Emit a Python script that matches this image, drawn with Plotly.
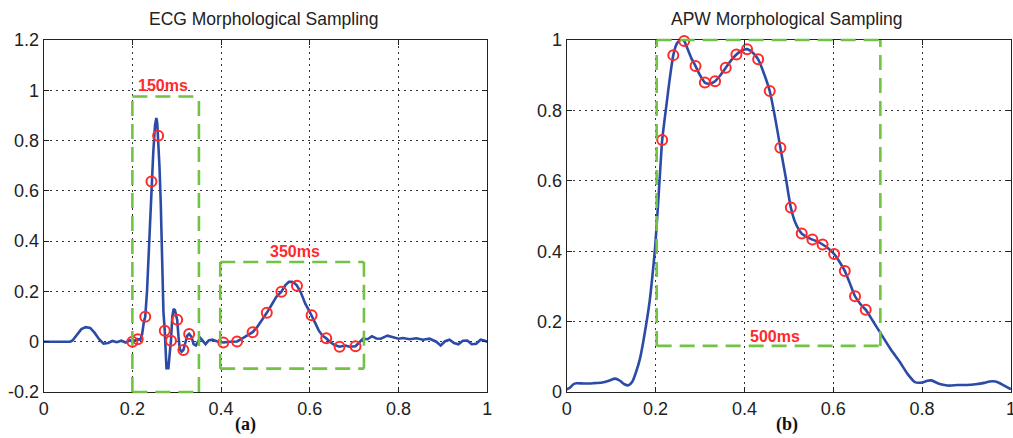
import plotly.graph_objects as go

# ---------------- ECG data ----------------
ecg_x = [0.0, 0.06, 0.065, 0.075, 0.085, 0.095, 0.105, 0.115, 0.125, 0.135, 0.145, 0.155, 0.165, 0.175,
         0.185, 0.195, 0.2, 0.206, 0.212, 0.218, 0.222, 0.226, 0.229, 0.233, 0.237, 0.240, 0.243, 0.247,
         0.251, 0.254, 0.256, 0.258, 0.261, 0.264, 0.266, 0.268, 0.270, 0.273, 0.275, 0.277, 0.279, 0.281,
         0.284, 0.287, 0.290, 0.293, 0.296, 0.299, 0.301, 0.304, 0.307, 0.311, 0.315, 0.320, 0.324, 0.328,
         0.333, 0.338, 0.343, 0.348, 0.353, 0.358, 0.365, 0.372, 0.38, 0.39, 0.405, 0.42, 0.436, 0.45,
         0.46, 0.471, 0.48, 0.49, 0.503, 0.515, 0.525, 0.536, 0.545, 0.553, 0.56, 0.566, 0.571, 0.58,
         0.59, 0.598, 0.604, 0.612, 0.62, 0.628, 0.637, 0.645, 0.655, 0.667, 0.68, 0.69, 0.703, 0.712,
         0.72, 0.73, 0.74, 0.75, 0.76, 0.775, 0.79, 0.8, 0.81, 0.825, 0.84, 0.855, 0.87, 0.885, 0.895,
         0.905, 0.915, 0.925, 0.935, 0.945, 0.955, 0.965, 0.975, 0.985, 0.993, 1.0]
ecg_y = [0.0, 0.0, 0.005, 0.03, 0.05, 0.058, 0.055, 0.035, 0.01, -0.008, -0.005, 0.003, -0.002, 0.004,
         -0.003, 0.006, 0.0, 0.005, 0.01, 0.008, 0.03, 0.08, 0.099, 0.2, 0.35, 0.5, 0.637, 0.75,
         0.86, 0.89, 0.87, 0.819, 0.70, 0.55, 0.40, 0.25, 0.12, 0.044, -0.05, -0.11, -0.08, -0.11,
         -0.05, 0.004, 0.10, 0.13, 0.125, 0.10, 0.087, 0.02, -0.03, -0.04, -0.033, 0.0, 0.025, 0.031,
         0.02, -0.01, -0.015, 0.0, 0.015, 0.005, -0.01, 0.005, 0.008, 0.002, -0.003, 0.0, 0.001, 0.015,
         0.025, 0.038, 0.055, 0.08, 0.115, 0.15, 0.18, 0.199, 0.225, 0.238, 0.238, 0.232, 0.223, 0.195,
         0.15, 0.125, 0.105, 0.075, 0.045, 0.025, 0.0135, 0.0, -0.012, -0.02, -0.015, -0.02, -0.018, 0.0,
         0.012, 0.01, 0.022, 0.013, 0.012, 0.024, 0.018, 0.012, 0.015, 0.01, 0.014, 0.008, 0.012, 0.0, -0.015,
         0.002, 0.008, -0.005, -0.01, 0.004, 0.005, -0.01, -0.008, 0.008, 0.005, 0.0]

ecg_sample_x = [0.200, 0.212, 0.229, 0.243, 0.258, 0.273, 0.287, 0.301, 0.315, 0.328,
                0.405, 0.436, 0.471, 0.503, 0.536, 0.571, 0.604, 0.637, 0.667, 0.703]
ecg_sample_y = [0.0, 0.01, 0.099, 0.637, 0.819, 0.044, 0.004, 0.087, -0.033, 0.031,
                -0.003, 0.001, 0.038, 0.115, 0.199, 0.223, 0.105, 0.0135, -0.02, -0.018]

# boxes: (x0, x1, y0, y1)
ecg_qrs_box = (0.2, 0.35, -0.2, 0.975)
ecg_t_box = (0.398, 0.722, -0.107, 0.317)
ecg_labels = ["150ms", "350ms"]
ecg_label_x = [0.268, 0.566]
ecg_label_y = [1.02, 0.357]

# ---------------- APW data ----------------
apw_x = [0.0, 0.007, 0.015, 0.022, 0.04, 0.06, 0.08, 0.095, 0.109, 0.12, 0.13, 0.139, 0.148, 0.157,
         0.165, 0.172, 0.18, 0.187, 0.193, 0.199, 0.205, 0.210, 0.215, 0.22, 0.225, 0.232, 0.240, 0.248,
         0.2587, 0.2645, 0.272, 0.280, 0.290, 0.300, 0.311, 0.322, 0.334, 0.346, 0.358, 0.370, 0.382,
         0.394, 0.406, 0.418, 0.431, 0.444, 0.457, 0.469, 0.481, 0.493, 0.5045, 0.515, 0.529, 0.541,
         0.553, 0.565, 0.576, 0.589, 0.602, 0.614, 0.626, 0.637, 0.649, 0.661, 0.673, 0.69, 0.712, 0.73,
         0.75, 0.768, 0.784, 0.8, 0.812, 0.821, 0.835, 0.85, 0.862, 0.88, 0.9, 0.92, 0.94, 0.952, 0.965,
         0.975, 0.985, 0.997, 1.0]
apw_y = [0.008, 0.012, 0.022, 0.025, 0.024, 0.025, 0.027, 0.032, 0.038, 0.032, 0.022, 0.019, 0.03, 0.06,
         0.095, 0.14, 0.2, 0.26, 0.33, 0.41, 0.52, 0.62, 0.716, 0.77, 0.82, 0.89, 0.957, 0.99,
         1.003, 0.997, 0.975, 0.95, 0.926, 0.9, 0.879, 0.876, 0.883, 0.9, 0.921, 0.942, 0.959,
         0.97, 0.974, 0.965, 0.945, 0.905, 0.855, 0.78, 0.694, 0.61, 0.524, 0.48, 0.450, 0.44,
         0.433, 0.427, 0.419, 0.408, 0.392, 0.37, 0.344, 0.31, 0.272, 0.25, 0.234, 0.2, 0.156, 0.12,
         0.085, 0.05, 0.028, 0.027, 0.032, 0.033, 0.025, 0.02, 0.018, 0.02, 0.02, 0.022, 0.026, 0.03, 0.03,
         0.025, 0.018, 0.01, 0.008]

apw_sample_x = [0.215, 0.240, 0.2645, 0.290, 0.311, 0.334, 0.358, 0.382, 0.406, 0.431,
                0.457, 0.481, 0.5045, 0.529, 0.553, 0.576, 0.602, 0.626, 0.649, 0.673]
apw_sample_y = [0.716, 0.957, 0.997, 0.926, 0.879, 0.883, 0.921, 0.959, 0.974, 0.945,
                0.855, 0.694, 0.524, 0.450, 0.433, 0.419, 0.392, 0.344, 0.272, 0.234]

apw_box = (0.2025, 0.706, 0.131, 1.0)
apw_labels = ["500ms"]
apw_label_x = [0.470]
apw_label_y = [0.158]

# ticks
x_ticks = [0, 0.2, 0.4, 0.6, 0.8, 1]
x_ticktext = ["0", "0.2", "0.4", "0.6", "0.8", "1"]
ecg_yticks = [-0.2, 0, 0.2, 0.4, 0.6, 0.8, 1.0, 1.2]
ecg_yticktext = ["-0.2", "0", "0.2", "0.4", "0.6", "0.8", "1", "1.2"]
apw_yticks = [0, 0.2, 0.4, 0.6, 0.8, 1.0]
apw_yticktext = ["0", "0.2", "0.4", "0.6", "0.8", "1"]

BLUE = "#2c4ba6"
RED = "#ff2a2a"
GREEN = "#72c243"
FONT = "Liberation Sans, Arial, sans-serif"
SERIF = "Liberation Serif, Times New Roman, serif"

fig = go.Figure()
fig.add_trace(go.Scatter(x=ecg_x, y=ecg_y, mode="lines", line=dict(color=BLUE, width=2.6),
                         xaxis="x", yaxis="y", showlegend=False))
fig.add_trace(go.Scatter(x=ecg_sample_x, y=ecg_sample_y, mode="markers",
                         marker=dict(symbol="circle-open", size=10, color=RED, line=dict(width=2, color=RED)),
                         xaxis="x", yaxis="y", showlegend=False, cliponaxis=False))
fig.add_trace(go.Scatter(x=apw_x, y=apw_y, mode="lines", line=dict(color=BLUE, width=2.6, shape="spline", smoothing=0.6),
                         xaxis="x2", yaxis="y2", showlegend=False))
fig.add_trace(go.Scatter(x=apw_sample_x, y=apw_sample_y, mode="markers",
                         marker=dict(symbol="circle-open", size=10, color=RED, line=dict(width=2, color=RED)),
                         xaxis="x2", yaxis="y2", showlegend=False, cliponaxis=False))

dash_line = dict(color=GREEN, width=2.6, dash="15px,8px")


def box_shapes(box, xr, yr, clip_top=False, clip_bottom=False):
    x0, x1, y0, y1 = box
    shapes = []
    shapes.append(dict(type="line", xref=xr, yref=yr, x0=x0, x1=x0, y0=y0, y1=y1, line=dash_line))
    shapes.append(dict(type="line", xref=xr, yref=yr, x0=x1, x1=x1, y0=y0, y1=y1, line=dash_line))
    if clip_top:
        shapes.append(dict(type="line", xref=xr, yref=yr + " domain", x0=x0, x1=x1, y0=1, y1=1, line=dash_line))
    else:
        shapes.append(dict(type="line", xref=xr, yref=yr, x0=x0, x1=x1, y0=y1, y1=y1, line=dash_line))
    if clip_bottom:
        shapes.append(dict(type="line", xref=xr, yref=yr + " domain", x0=x0, x1=x1, y0=0, y1=0, line=dash_line))
    else:
        shapes.append(dict(type="line", xref=xr, yref=yr, x0=x0, x1=x1, y0=y0, y1=y0, line=dash_line))
    return shapes


shapes = []
shapes += box_shapes(ecg_qrs_box, "x", "y", clip_bottom=True)
shapes += box_shapes(ecg_t_box, "x", "y")
shapes += box_shapes(apw_box, "x2", "y2", clip_top=True)

annotations = []
for t, x, y in zip(ecg_labels, ecg_label_x, ecg_label_y):
    annotations.append(dict(text="<b>%s</b>" % t, x=x, y=y, xref="x", yref="y", showarrow=False,
                            xanchor="center", yanchor="middle",
                            font=dict(family=FONT, size=16, color=RED)))
for t, x, y in zip(apw_labels, apw_label_x, apw_label_y):
    annotations.append(dict(text="<b>%s</b>" % t, x=x, y=y, xref="x2", yref="y2", showarrow=False,
                            xanchor="center", yanchor="middle",
                            font=dict(family=FONT, size=16, color=RED)))

annotations += [
    dict(text="ECG Morphological Sampling", x=0.2605, y=0.956, xref="paper", yref="paper", showarrow=False,
         font=dict(family=FONT, size=17.5, color="#222"), xanchor="center", yanchor="middle"),
    dict(text="APW Morphological Sampling", x=0.777, y=0.956, xref="paper", yref="paper", showarrow=False,
         font=dict(family=FONT, size=17.5, color="#222"), xanchor="center", yanchor="middle"),
    dict(text="<b>(a)</b>", x=0.242, y=0.03, xref="paper", yref="paper", showarrow=False,
         font=dict(family=SERIF, size=18, color="#111"), xanchor="center", yanchor="middle"),
    dict(text="<b>(b)</b>", x=0.777, y=0.03, xref="paper", yref="paper", showarrow=False,
         font=dict(family=SERIF, size=18, color="#111"), xanchor="center", yanchor="middle"),
]

axis_common = dict(showline=True, linecolor="#222", linewidth=1, mirror="ticks", ticks="inside",
                   ticklen=5, tickcolor="#222", showgrid=True, gridcolor="#333", gridwidth=1,
                   griddash="2px,4px", zeroline=False, automargin=False, ticklabeloverflow="allow",
                   tickfont=dict(family=FONT, size=18, color="#222"))

fig.update_layout(
    width=1013, height=438,
    margin=dict(l=0, r=0, t=0, b=0, autoexpand=False),
    paper_bgcolor="white", plot_bgcolor="white",
    xaxis=dict(domain=[0.0431, 0.481], range=[0, 1], tickvals=x_ticks, ticktext=x_ticktext,
               anchor="y", **axis_common),
    yaxis=dict(domain=[0.105, 0.9087], range=[-0.2, 1.2], tickvals=ecg_yticks, ticktext=ecg_yticktext,
               anchor="x", **axis_common),
    xaxis2=dict(domain=[0.5594, 0.998], range=[0, 1], tickvals=x_ticks, ticktext=x_ticktext,
                anchor="y2", **axis_common),
    yaxis2=dict(domain=[0.105, 0.9087], range=[0, 1], tickvals=apw_yticks, ticktext=apw_yticktext,
                anchor="x2", **axis_common),
    shapes=shapes,
    annotations=annotations,
)

fig.write_html("out.html", config={"displayModeBar": False},
               post_script="document.body.style.margin='0';document.body.style.overflow='hidden';")
